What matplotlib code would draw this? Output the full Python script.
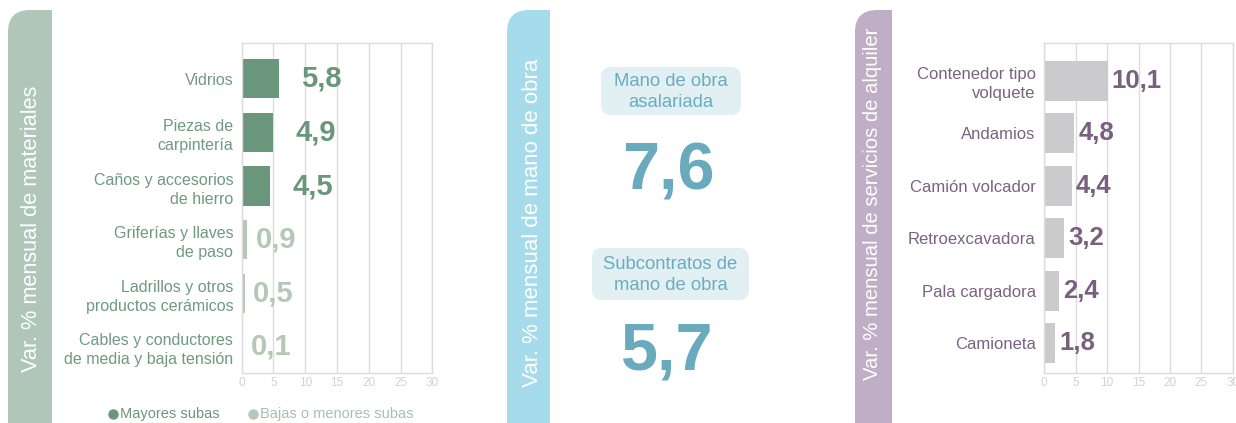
import matplotlib.pyplot as plt
from matplotlib.patches import FancyBboxPatch, Rectangle

plt.rcParams['font.family'] = ['Liberation Sans', 'DejaVu Sans']

# materiales
mat_labels = ['Vidrios', 'Piezas de\ncarpintería', 'Caños y accesorios\nde hierro',
              'Griferías y llaves\nde paso', 'Ladrillos y otros\nproductos cerámicos',
              'Cables y conductores\nde media y baja tensión']
mat_values = [5.8, 4.9, 4.5, 0.9, 0.5, 0.1]
mat_mayores = [True, True, True, False, False, False]

# mano de obra
mo_labels = ['Mano de obra\nasalariada', 'Subcontratos de\nmano de obra']
mo_values = [7.6, 5.7]

# servicios de alquiler
alq_labels = ['Contenedor tipo\nvolquete', 'Andamios', 'Camión volcador',
              'Retroexcavadora', 'Pala cargadora', 'Camioneta']
alq_values = [10.1, 4.8, 4.4, 3.2, 2.4, 1.8]

xticks = [0, 5, 10, 15, 20, 25, 30]

W, H = 1236, 423
fig = plt.figure(figsize=(W / 100, H / 100), dpi=100)

# overlay in pixel coords for bands, boxes and big numbers
bg = fig.add_axes([0, 0, 1, 1])
bg.set_xlim(0, W)
bg.set_ylim(H, 0)
bg.axis('off')

def band(x0, x1, color, text, fs, tx, ty):
    bg.add_patch(FancyBboxPatch((x0, 10), x1 - x0, 450, boxstyle='round,pad=0,rounding_size=22',
                                fc=color, ec='none', zorder=1))
    bg.add_patch(Rectangle(((x0 + x1) / 2, 10), (x1 - x0) / 2, 450, fc=color, ec='none', zorder=1))
    bg.text(tx, ty, text, rotation=90, ha='center', va='bottom', color='white',
            fontsize=fs, zorder=2)

band(8, 52, '#afc6b8', 'Var. % mensual de materiales', 15.7, 32, 372)
band(507, 550, '#a6dbeb', 'Var. % mensual de mano de obra', 16, 532, 387)
band(855, 892, '#bfaec6', 'Var. % mensual de servicios de alquiler', 14.6, 873, 380)

# middle panel
boxes = [(601, 67, 140, 48), (592, 248, 157, 52)]
num_y = [173, 353]
for (bx, by, bw, bh), lab, val, ny in zip(boxes, mo_labels, mo_values, num_y):
    bg.add_patch(FancyBboxPatch((bx, by), bw, bh, boxstyle='round,pad=0,rounding_size=10',
                                fc='#e2f0f4', ec='none'))
    bg.text(bx + bw / 2, by + bh / 2 + 1, lab, ha='center', va='center', color='#6aadbf',
            fontsize=13.3, linespacing=1.25)
    bg.text(bx + bw / 2 - 3, ny, f'{val:.1f}'.replace('.', ','), ha='center', va='center',
            color='#6aaabd', fontsize=48, fontweight='bold')

# legend for materiales
bg.plot([113], [414], 'o', color='#6a967b', ms=6.5)
bg.text(120, 414, 'Mayores subas', va='center', color='#6a967b', fontsize=10.5)
bg.plot([253], [414], 'o', color='#b5c7b6', ms=6.5)
bg.text(260, 414, 'Bajas o menores subas', va='center', color='#a9bfae', fontsize=10.5)

def setup(ax, labels, lab_color, ylim, fs):
    ax.set_xlim(0, 30)
    ax.set_ylim(*ylim)
    ax.set_xticks(xticks)
    ax.set_xticklabels([str(t) for t in xticks], color='#d2d2d2', fontsize=8.5)
    ax.set_yticks(range(len(labels)))
    ax.set_yticklabels(labels, color=lab_color, fontsize=fs, linespacing=1.35)
    ax.tick_params(length=0, axis='y', pad=6)
    ax.tick_params(length=0, axis='x', pad=3)
    ax.grid(axis='x', color='#dcdcdc', lw=1)
    ax.set_axisbelow(True)
    for s in ax.spines.values():
        s.set_color('#dcdcdc')
        s.set_linewidth(1)

# materiales
ax1 = fig.add_axes([241.7 / W, 1 - 373 / H, 190.6 / W, 330 / H])
setup(ax1, mat_labels, '#6f9a80', (5.49, -0.67), 11.5)
ypos = range(len(mat_values))
cols = ['#6a967b' if m else '#b5c7b6' for m in mat_mayores]
ax1.barh(ypos, mat_values, height=0.73, color=cols, zorder=2)
for y, v, m in zip(ypos, mat_values, mat_mayores):
    ax1.annotate(f'{v:.1f}'.replace('.', ','), (v, y), xytext=(16 if m else 6, 0),
                 textcoords='offset points', va='center', ha='left',
                 color='#6a967b' if m else '#b5c7b6', fontsize=21, fontweight='bold')

# alquiler
ax3 = fig.add_axes([1044 / W, 1 - 373 / H, 189 / W, 330 / H])
setup(ax3, alq_labels, '#7b6280', (5.57, -0.72), 12)
ypos = range(len(alq_values))
ax3.barh(ypos, alq_values, height=0.76, color='#cbcacc', zorder=2)
for y, v in zip(ypos, alq_values):
    ax3.annotate(f'{v:.1f}'.replace('.', ','), (v, y), xytext=(3, 0),
                 textcoords='offset points', va='center', ha='left',
                 color='#7a5f80', fontsize=18.5, fontweight='bold')

fig.savefig('out.png', dpi=100)
